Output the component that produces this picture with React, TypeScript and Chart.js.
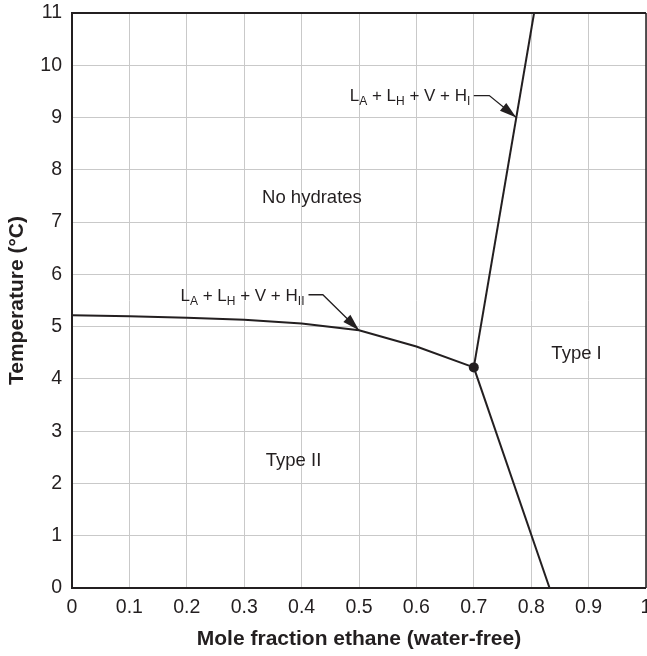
import React, { useEffect, useRef } from "react";
import { Chart, registerables } from "chart.js";

Chart.register(...registerables);

const INK = "#231f20";
const GRID = "#c9c9c9";
const FONT = '"Liberation Sans", Arial, Helvetica, sans-serif';

// Tick labels
const xTickLabels = ["0", "0.1", "0.2", "0.3", "0.4", "0.5", "0.6", "0.7", "0.8", "0.9", "1"];
const yTickLabels = ["0", "1", "2", "3", "4", "5", "6", "7", "8", "9", "10", "11"];

// H_II boundary (L_A + L_H + V + H_II)
const hIIx = [0, 0.1, 0.2, 0.3, 0.4, 0.5, 0.6, 0.7];
const hIIy = [5.22, 5.2, 5.17, 5.13, 5.06, 4.93, 4.62, 4.22];

// H_I boundary (L_A + L_H + V + H_I)
const hIx = [0.7, 0.805];
const hIy = [4.22, 11];

// Type I / Type II boundary
const typeBx = [0.7, 0.832];
const typeBy = [4.22, 0];

// Quadruple point
const quadX = [0.7];
const quadY = [4.22];

// Region labels
const regionText = ["No hydrates", "Type I", "Type II"];
const regionX = [0.418, 0.879, 0.386];
const regionY = [7.46, 4.48, 2.43];

// Callouts: text, text right-end anchor, leader start, elbow, arrow tip
const calloutText = ["L_A + L_H + V + H_I", "L_A + L_H + V + H_II"];
const calloutTextX = [0.694, 0.405];
const calloutTextY = [9.4, 5.58];
const calloutStartX = [0.7, 0.412];
const calloutElbowX = [0.727, 0.437];
const calloutLineY = [9.42, 5.61];
const calloutTipX = [0.774, 0.5];
const calloutTipY = [9.0, 4.93];

const toPts = (xs: number[], ys: number[]) => xs.map((x, i) => ({ x, y: ys[i] }));

const lineDs = (data: { x: number; y: number }[]) => ({
  data,
  showLine: true,
  borderColor: INK,
  borderWidth: 2,
  pointRadius: 0,
  pointHoverRadius: 0,
  tension: 0,
  fill: false,
});

function drawSubText(ctx: CanvasRenderingContext2D, text: string, rightX: number, cy: number) {
  const mainFont = `17px ${FONT}`;
  const subFont = `12px ${FONT}`;
  const segs: { t: string; sub: boolean }[] = [];
  text.split(" ").forEach((tok, i) => {
    if (i > 0) segs.push({ t: " ", sub: false });
    const k = tok.indexOf("_");
    if (k >= 0) {
      segs.push({ t: tok.slice(0, k), sub: false });
      segs.push({ t: tok.slice(k + 1), sub: true });
    } else segs.push({ t: tok, sub: false });
  });
  let total = 0;
  const widths = segs.map((s) => {
    ctx.font = s.sub ? subFont : mainFont;
    const w = ctx.measureText(s.t).width;
    total += w;
    return w;
  });
  let x = rightX - total;
  ctx.textAlign = "left";
  ctx.textBaseline = "middle";
  segs.forEach((s, i) => {
    ctx.font = s.sub ? subFont : mainFont;
    ctx.fillText(s.t, x, s.sub ? cy + 5 : cy);
    x += widths[i];
  });
}

function drawArrow(ctx: CanvasRenderingContext2D, x0: number, y0: number, x1: number, y1: number) {
  const ang = Math.atan2(y1 - y0, x1 - x0);
  const len = 17;
  const hw = 5;
  const bx = x1 - len * Math.cos(ang);
  const by = y1 - len * Math.sin(ang);
  ctx.beginPath();
  ctx.moveTo(x1, y1);
  ctx.lineTo(bx + hw * Math.sin(ang), by - hw * Math.cos(ang));
  ctx.lineTo(bx - hw * Math.sin(ang), by + hw * Math.cos(ang));
  ctx.closePath();
  ctx.fill();
}

const annoPlugin = {
  id: "anno",
  afterDatasetsDraw(chart: any) {
    const { ctx, scales } = chart;
    const xs = scales.x;
    const ys = scales.y;
    ctx.save();
    ctx.fillStyle = INK;
    ctx.strokeStyle = INK;
    ctx.font = `18.5px ${FONT}`;
    ctx.textAlign = "center";
    ctx.textBaseline = "middle";
    regionText.forEach((t, i) => {
      ctx.fillText(t, xs.getPixelForValue(regionX[i]), ys.getPixelForValue(regionY[i]));
    });
    calloutText.forEach((t, i) => {
      drawSubText(ctx, t, xs.getPixelForValue(calloutTextX[i]), ys.getPixelForValue(calloutTextY[i]));
      const sx = xs.getPixelForValue(calloutStartX[i]);
      const ex = xs.getPixelForValue(calloutElbowX[i]);
      const ly = ys.getPixelForValue(calloutLineY[i]);
      const tx = xs.getPixelForValue(calloutTipX[i]);
      const ty = ys.getPixelForValue(calloutTipY[i]);
      ctx.lineWidth = 1.3;
      ctx.beginPath();
      ctx.moveTo(sx, ly);
      ctx.lineTo(ex, ly);
      ctx.lineTo(tx, ty);
      ctx.stroke();
      drawArrow(ctx, ex, ly, tx, ty);
    });
    ctx.restore();
  },
  afterDraw(chart: any) {
    const { ctx, chartArea: a } = chart;
    ctx.save();
    ctx.strokeStyle = INK;
    ctx.lineWidth = 2;
    ctx.beginPath();
    ctx.moveTo(a.right, a.top);
    ctx.lineTo(a.left, a.top);
    ctx.lineTo(a.left, a.bottom);
    ctx.lineTo(a.right, a.bottom);
    ctx.stroke();
    ctx.lineWidth = 1.5;
    ctx.beginPath();
    ctx.moveTo(a.right, a.top);
    ctx.lineTo(a.right, a.bottom);
    ctx.stroke();
    ctx.restore();
  },
};

const zeroPad = () => ({ left: 0, top: 0, right: 0, bottom: 0 });

export default function App() {
  const ref = useRef<HTMLCanvasElement>(null);
  useEffect(() => {
    document.body.style.margin = "0";
    const canvas = ref.current!;
    const chart = new Chart(canvas, {
      type: "scatter",
      data: {
        datasets: [
          lineDs(toPts(hIIx, hIIy)),
          lineDs(toPts(hIx, hIy)),
          lineDs(toPts(typeBx, typeBy)),
          {
            data: toPts(quadX, quadY),
            showLine: false,
            pointRadius: 5,
            pointBackgroundColor: INK,
            pointBorderColor: INK,
            pointBorderWidth: 0,
          },
        ],
      } as any,
      options: {
        animation: false,
        responsive: false,
        devicePixelRatio: 1,
        layout: { autoPadding: false, padding: { top: 13, right: 1, left: 0, bottom: 0 } },
        plugins: { legend: { display: false }, tooltip: { enabled: false } },
        events: [],
        scales: {
          x: {
            type: "linear",
            min: 0,
            max: 1,
            border: { display: false },
            grid: { color: GRID, lineWidth: 1, drawTicks: false },
            ticks: {
              stepSize: 0.1,
              autoSkip: false,
              maxRotation: 0,
              padding: 8,
              color: INK,
              font: { family: FONT, size: 19.5 },
              callback: (_v: any, i: number) => xTickLabels[i],
            },
            title: {
              display: true,
              text: "Mole fraction ethane (water-free)",
              color: INK,
              font: { family: FONT, size: 21, weight: "bold" },
              padding: { top: 0, bottom: 4 },
            },
            afterFit: (s: any) => {
              s.height = 68;
              s.paddingLeft = 0;
              s.paddingRight = 0;
              s.getPadding = zeroPad;
            },
          },
          y: {
            type: "linear",
            min: 0,
            max: 11,
            border: { display: false },
            grid: { color: GRID, lineWidth: 1, drawTicks: false },
            ticks: {
              stepSize: 1,
              autoSkip: false,
              padding: 10,
              color: INK,
              font: { family: FONT, size: 19.5 },
              callback: (_v: any, i: number) => yTickLabels[i],
            },
            title: {
              display: true,
              text: "Temperature (°C)",
              color: INK,
              font: { family: FONT, size: 21, weight: "bold" },
              padding: { top: 5, bottom: 0 },
            },
            afterFit: (s: any) => {
              s.width = 72;
              s.paddingTop = 0;
              s.paddingBottom = 0;
              s.getPadding = zeroPad;
            },
          },
        },
      } as any,
      plugins: [annoPlugin],
    });
    return () => chart.destroy();
  }, []);
  return (
    <canvas
      ref={ref}
      width={647}
      height={656}
      style={{ display: "block", width: 647, height: 656 }}
    />
  );
}
